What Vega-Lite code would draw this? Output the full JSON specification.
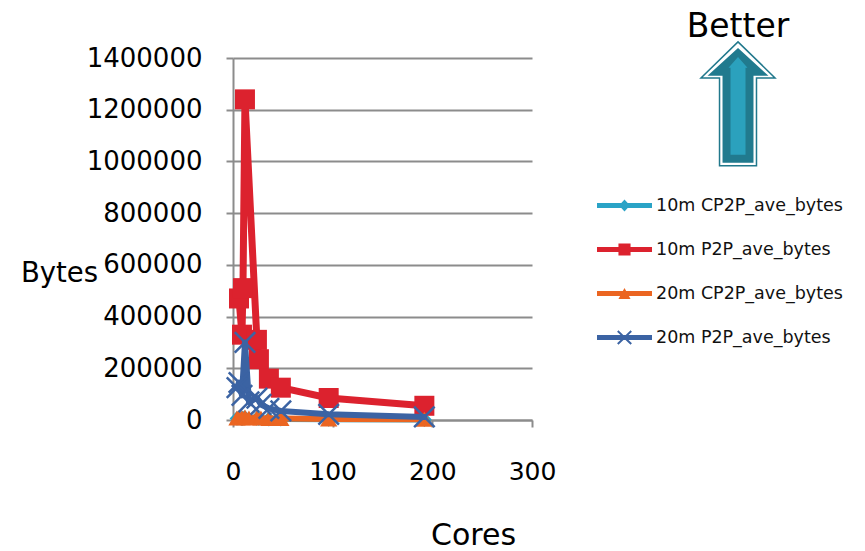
{
  "$schema": "https://vega.github.io/schema/vega-lite/v6.json",
  "autosize": "none",
  "padding": {"left": 233, "top": 58, "right": 333, "bottom": 131},
  "width": 299,
  "height": 362,
  "background": "white",
  "config": {"view": {"stroke": null}, "font": "DejaVu Sans"},
  "data": {
    "values": [
      {"series": "10m CP2P_ave_bytes", "cores": 4, "bytes": 6000},
      {"series": "10m CP2P_ave_bytes", "cores": 6, "bytes": 7000},
      {"series": "10m CP2P_ave_bytes", "cores": 9, "bytes": 5000},
      {"series": "10m CP2P_ave_bytes", "cores": 10, "bytes": 7000},
      {"series": "10m CP2P_ave_bytes", "cores": 12, "bytes": 9000},
      {"series": "10m CP2P_ave_bytes", "cores": 24, "bytes": 6000},
      {"series": "10m CP2P_ave_bytes", "cores": 26, "bytes": 5000},
      {"series": "10m CP2P_ave_bytes", "cores": 36, "bytes": 4000},
      {"series": "10m CP2P_ave_bytes", "cores": 48, "bytes": 3500},
      {"series": "10m CP2P_ave_bytes", "cores": 96, "bytes": 2500},
      {"series": "10m CP2P_ave_bytes", "cores": 192, "bytes": 2000},

      {"series": "10m P2P_ave_bytes", "cores": 6, "bytes": 470000},
      {"series": "10m P2P_ave_bytes", "cores": 9, "bytes": 330000},
      {"series": "10m P2P_ave_bytes", "cores": 10, "bytes": 510000},
      {"series": "10m P2P_ave_bytes", "cores": 12, "bytes": 1240000},
      {"series": "10m P2P_ave_bytes", "cores": 24, "bytes": 310000},
      {"series": "10m P2P_ave_bytes", "cores": 26, "bytes": 235000},
      {"series": "10m P2P_ave_bytes", "cores": 36, "bytes": 160000},
      {"series": "10m P2P_ave_bytes", "cores": 48, "bytes": 125000},
      {"series": "10m P2P_ave_bytes", "cores": 96, "bytes": 85000},
      {"series": "10m P2P_ave_bytes", "cores": 192, "bytes": 55000},

      {"series": "20m CP2P_ave_bytes", "cores": 4, "bytes": 8000},
      {"series": "20m CP2P_ave_bytes", "cores": 6, "bytes": 10000},
      {"series": "20m CP2P_ave_bytes", "cores": 9, "bytes": 9000},
      {"series": "20m CP2P_ave_bytes", "cores": 12, "bytes": 12000},
      {"series": "20m CP2P_ave_bytes", "cores": 16, "bytes": 8000},
      {"series": "20m CP2P_ave_bytes", "cores": 24, "bytes": 10000},
      {"series": "20m CP2P_ave_bytes", "cores": 28, "bytes": 8000},
      {"series": "20m CP2P_ave_bytes", "cores": 36, "bytes": 6000},
      {"series": "20m CP2P_ave_bytes", "cores": 48, "bytes": 6000},
      {"series": "20m CP2P_ave_bytes", "cores": 96, "bytes": 4000},
      {"series": "20m CP2P_ave_bytes", "cores": 192, "bytes": 3000},

      {"series": "20m P2P_ave_bytes", "cores": 4, "bytes": 125000},
      {"series": "20m P2P_ave_bytes", "cores": 6, "bytes": 145000},
      {"series": "20m P2P_ave_bytes", "cores": 9, "bytes": 95000},
      {"series": "20m P2P_ave_bytes", "cores": 12, "bytes": 300000},
      {"series": "20m P2P_ave_bytes", "cores": 16, "bytes": 70000},
      {"series": "20m P2P_ave_bytes", "cores": 24, "bytes": 85000},
      {"series": "20m P2P_ave_bytes", "cores": 28, "bytes": 60000},
      {"series": "20m P2P_ave_bytes", "cores": 36, "bytes": 45000},
      {"series": "20m P2P_ave_bytes", "cores": 48, "bytes": 35000},
      {"series": "20m P2P_ave_bytes", "cores": 96, "bytes": 22000},
      {"series": "20m P2P_ave_bytes", "cores": 192, "bytes": 12000}
    ]
  },
  "layer": [
    {
      "encoding": {
        "x": {
          "field": "cores",
          "type": "quantitative",
          "scale": {"domain": [0, 300], "nice": false, "zero": true},
          "axis": {
            "title": "Cores",
            "titleFont": "DejaVu Sans",
            "titleFontSize": 30,
            "titleFontWeight": "normal",
            "titleColor": "#000",
            "titleAlign": "center",
            "titleBaseline": "alphabetic",
            "titleX": 240,
            "titleY": 124,
            "values": [0, 100, 200, 300],
            "format": "d",
            "labelFont": "DejaVu Sans",
            "labelFontSize": 25,
            "labelColor": "#000",
            "labelPadding": 32,
            "labelFlush": false,
            "labelOverlap": false,
            "tickSize": 7,
            "tickWidth": 2,
            "tickColor": "#8c8c8c",
            "domainColor": "#8c8c8c",
            "domainWidth": 2,
            "grid": false
          }
        },
        "y": {
          "field": "bytes",
          "type": "quantitative",
          "scale": {"domain": [0, 1400000], "nice": false},
          "axis": {
            "title": "Bytes",
            "titleAngle": 0,
            "titleFont": "DejaVu Sans",
            "titleFontSize": 27.5,
            "titleFontWeight": "normal",
            "titleColor": "#000",
            "titleAlign": "center",
            "titleBaseline": "alphabetic",
            "titleX": -174,
            "titleY": 223,
            "values": [0, 200000, 400000, 600000, 800000, 1000000, 1200000, 1400000],
            "format": "d",
            "labelFont": "DejaVu Sans",
            "labelFontSize": 26,
            "labelColor": "#000",
            "labelPadding": 24,
            "labelOverlap": false,
            "tickSize": 7,
            "tickWidth": 2,
            "tickColor": "#8c8c8c",
            "domainColor": "#8c8c8c",
            "domainWidth": 2,
            "grid": true,
            "gridColor": "#8c8c8c",
            "gridWidth": 2
          }
        },
        "color": {
          "field": "series",
          "type": "nominal",
          "scale": {
            "domain": ["10m CP2P_ave_bytes", "10m P2P_ave_bytes", "20m CP2P_ave_bytes", "20m P2P_ave_bytes"],
            "range": ["#2aa3c6", "#dc222e", "#eb6521", "#3b63a3"]
          },
          "legend": {
            "title": null,
            "orient": "none",
            "legendX": 364,
            "legendY": 120,
            "padding": 0,
            "labelFont": "DejaVu Sans",
            "labelFontSize": 17.5,
            "labelColor": "#111",
            "labelOffset": 4,
            "labelLimit": 400,
            "rowPadding": 8,
            "symbolSize": 3025,
            "symbolStrokeWidth": 0,
            "encode": {
              "symbols": {
                "update": {
                  "shape": {"signal": "datum.value === '10m CP2P_ave_bytes' ? 'M-1,-0.09H1V0.09H-1Z M-0.2,0L0,-0.22L0.2,0L0,0.22Z' : datum.value === '10m P2P_ave_bytes' ? 'M-1,-0.09H1V0.09H-1Z M-0.22,-0.22H0.22V0.22H-0.22Z' : datum.value === '20m CP2P_ave_bytes' ? 'M-1,-0.09H1V0.09H-1Z M-0.22,0.2L0,-0.2L0.22,0.2Z' : 'M-1,-0.09H1V0.09H-1Z M-0.22,-0.26L0,-0.05L0.22,-0.26L0.27,-0.21L0.05,0L0.27,0.21L0.22,0.26L0,0.05L-0.22,0.26L-0.27,0.21L-0.05,0L-0.27,-0.21Z'"},
                  "fill": {"scale": "color", "field": "value"},
                  "fillOpacity": {"value": 1},
                  "opacity": {"value": 1},
                  "strokeWidth": {"value": 0}
                }
              }
            }
          }
        }
      },
      "layer": [
        {
          "transform": [{"filter": {"field": "series", "equal": "10m CP2P_ave_bytes"}}],
          "mark": {"type": "line", "strokeWidth": 6, "strokeJoin": "round", "strokeCap": "round"}
        },
        {
          "transform": [{"filter": {"field": "series", "equal": "10m CP2P_ave_bytes"}}],
          "mark": {"type": "point", "shape": "diamond", "filled": true, "size": 220, "opacity": 1}
        },
        {
          "transform": [{"filter": {"field": "series", "equal": "10m P2P_ave_bytes"}}],
          "mark": {"type": "line", "strokeWidth": 7, "strokeJoin": "round", "strokeCap": "round"}
        },
        {
          "transform": [{"filter": {"field": "series", "equal": "10m P2P_ave_bytes"}}],
          "mark": {"type": "point", "shape": "square", "filled": true, "size": 400, "opacity": 1}
        },
        {
          "transform": [{"filter": {"field": "series", "equal": "20m CP2P_ave_bytes"}}],
          "mark": {"type": "line", "strokeWidth": 6, "strokeJoin": "round", "strokeCap": "round"}
        },
        {
          "transform": [{"filter": {"field": "series", "equal": "20m CP2P_ave_bytes"}}],
          "mark": {"type": "point", "shape": "triangle-up", "filled": true, "size": 300, "opacity": 1}
        },
        {
          "transform": [{"filter": {"field": "series", "equal": "20m P2P_ave_bytes"}}],
          "mark": {"type": "line", "strokeWidth": 6, "strokeJoin": "round", "strokeCap": "round"}
        },
        {
          "transform": [{"filter": {"field": "series", "equal": "20m P2P_ave_bytes"}}],
          "mark": {"type": "point", "shape": "M-1,-1L1,1M-1,1L1,-1", "filled": false, "size": 420, "strokeWidth": 2.5, "opacity": 1}
        }
      ]
    },
    {
      "data": {"values": [{"label": "Better"}]},
      "mark": {"type": "point", "shape": "M0,-1.033L0.617,-0.433L0.308,-0.433L0.308,1.033L-0.308,1.033L-0.308,-0.433L-0.617,-0.433Z", "size": 14400, "filled": true, "fill": "#ffffff", "stroke": "#21788c", "strokeWidth": 1.5, "opacity": 1},
      "encoding": {
        "x": {"datum": 506.7, "type": "quantitative"},
        "y": {"datum": 1222600, "type": "quantitative"}
      }
    },
    {
      "data": {"values": [{"label": "Better"}]},
      "mark": {"type": "point", "shape": "M0,-0.933L0.508,-0.467L0.258,-0.467L0.258,0.983L-0.258,0.983L-0.258,-0.467L-0.508,-0.467Z", "size": 14400, "filled": true, "fill": "#217a8e", "strokeWidth": 0, "opacity": 1},
      "encoding": {
        "x": {"datum": 506.7, "type": "quantitative"},
        "y": {"datum": 1222600, "type": "quantitative"}
      }
    },
    {
      "data": {"values": [{"label": "Better"}]},
      "mark": {"type": "point", "shape": "M0,-0.783L0.158,-0.6L0.125,-0.6L0.125,0.85L-0.125,0.85L-0.125,-0.6L-0.158,-0.6Z", "size": 14400, "filled": true, "fill": "#2ba1bd", "strokeWidth": 0, "opacity": 1},
      "encoding": {
        "x": {"datum": 506.7, "type": "quantitative"},
        "y": {"datum": 1222600, "type": "quantitative"}
      }
    },
    {
      "data": {"values": [{"label": "Better"}]},
      "mark": {"type": "text", "font": "DejaVu Sans", "fontSize": 33, "align": "center", "baseline": "alphabetic", "color": "#000"},
      "encoding": {
        "x": {"datum": 506.7, "type": "quantitative"},
        "y": {"datum": 1481000, "type": "quantitative"},
        "text": {"field": "label"}
      }
    }
  ]
}
